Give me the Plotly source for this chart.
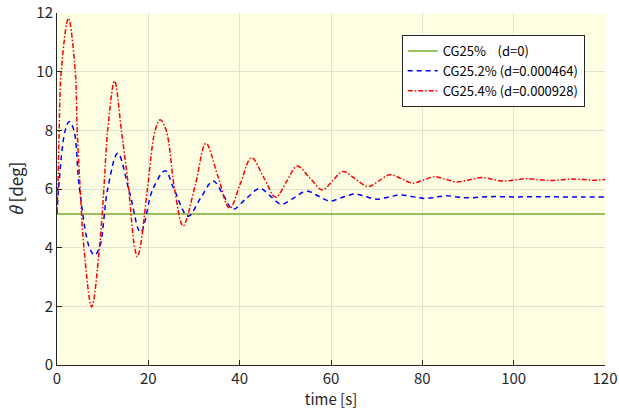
import plotly.graph_objects as go

# ---- data ----
t_green = [0, 120]
y_green = [5.15, 5.15]

t_blue = [0, 0.33, 1.8, 2.7, 3.7, 4.93, 7.1, 8.2, 9.3, 11.1, 13.3, 15.9, 18.3, 21.0, 23.7,
          25.6, 28.7, 31.4, 34.2, 36.4,
          38.5, 41.4, 44.4, 46.8, 49.1, 51.9, 54.6, 57.2, 59.7, 62.4, 65.2, 67.6, 70.0, 72.5,
          75.1, 77.8, 80.5, 82.9, 85.3, 87.5, 89.7, 95, 100, 105, 110, 115, 120]
y_blue = [5.15, 6.0, 8.0, 8.30, 8.0, 6.0, 4.0, 3.75, 4.0, 6.0, 7.22, 5.87, 4.52, 6.0, 6.62,
          6.0, 5.07, 5.68, 6.27, 5.8,
          5.31, 5.67, 6.02, 5.75, 5.48, 5.7, 5.93, 5.76, 5.59, 5.71, 5.83, 5.74, 5.65, 5.72,
          5.80, 5.74, 5.68, 5.72, 5.77, 5.73, 5.70, 5.74, 5.73, 5.74, 5.73, 5.73, 5.73]

t_red = [0, 0.19, 0.47, 0.92, 2.5, 4.0, 4.42, 5.08, 5.9, 7.6, 9.3, 10.26, 11.1, 12.6, 14.1,
         15.7, 17.0, 17.6, 18.2, 19.8, 21.5, 22.6, 23.9, 25.75, 27.6, 30.3, 32.6, 35.2,
         37.8, 40.2, 42.6, 45.25, 47.9, 50.25, 52.6, 55.35, 58.1, 60.35, 62.6, 65.35, 68.1, 70.5,
         72.9, 75.4, 77.9, 80.3, 82.7, 85.1, 87.5, 90.25, 93.0, 95.35, 97.7, 100.25, 102.8,
         105.4, 108.0, 110.35, 112.7, 115.2, 117.7, 120]
y_red = [5.2, 6.0, 8.0, 10.0, 11.82, 10.0, 8.0, 6.0, 4.0, 1.98, 4.0, 6.0, 8.0, 9.68, 8.0,
         6.0, 4.0, 3.69, 4.0, 6.0, 8.0, 8.36, 8.0, 6.0, 4.74, 6.15, 7.56, 6.45,
         5.34, 6.2, 7.07, 6.4, 5.72, 6.25, 6.78, 6.38, 5.97, 6.28, 6.60, 6.34, 6.08, 6.28,
         6.49, 6.35, 6.20, 6.31, 6.42, 6.33, 6.24, 6.31, 6.39, 6.33, 6.27, 6.31, 6.35,
         6.32, 6.29, 6.31, 6.34, 6.32, 6.30, 6.32]

names = ["CG25%\u00a0\u00a0\u00a0\u00a0(d=0)", "CG25.2% (d=0.000464)", "CG25.4% (d=0.000928)"]
x_ticks = [0, 20, 40, 60, 80, 100, 120]
y_ticks = [0, 2, 4, 6, 8, 10, 12]

FONT = "Noto Sans CJK JP, Noto Sans, sans-serif"

fig = go.Figure()
fig.add_trace(go.Scatter(x=t_green, y=y_green, mode="lines", name=names[0],
                         line=dict(color="#77AC30", width=1.5)))
fig.add_trace(go.Scatter(x=t_blue, y=y_blue, mode="lines", name=names[1],
                         line=dict(color="#0000FF", width=1.5, dash="5px,4px", shape="spline", smoothing=1)))
fig.add_trace(go.Scatter(x=t_red, y=y_red, mode="lines", name=names[2],
                         line=dict(color="#FF0000", width=1.5, dash="5px,2px,1.5px,2px", shape="spline", smoothing=1)))

axis_common = dict(showline=True, linecolor="#262626", linewidth=1, ticks="inside", ticklen=5,
                   tickcolor="#262626", showgrid=True, gridcolor="#e2e2d2", gridwidth=1,
                   zeroline=False, tickfont=dict(family=FONT, size=15, color="#262626"), mirror=False,
                   automargin=False)

fig.update_layout(
    width=619, height=411,
    margin=dict(l=57, r=14, t=13, b=46),
    paper_bgcolor="white", plot_bgcolor="#fefee3",
    font=dict(family=FONT, color="#262626"),
    xaxis=dict(range=[0, 120], tickvals=x_ticks, title=dict(text="time [s]", font=dict(size=15), standoff=4),
               **axis_common),
    yaxis=dict(range=[0, 12], tickvals=y_ticks, title=dict(text="<i>θ</i> [deg]", font=dict(size=17), standoff=8),
               **axis_common),
    legend=dict(x=0.629, y=0.9375, xanchor="left", yanchor="top", bgcolor="white",
                bordercolor="#262626", borderwidth=1, font=dict(family=FONT, size=13, color="#000000"),
                tracegroupgap=0, itemwidth=30),
    showlegend=True,
)

fig.write_html("out.html")
